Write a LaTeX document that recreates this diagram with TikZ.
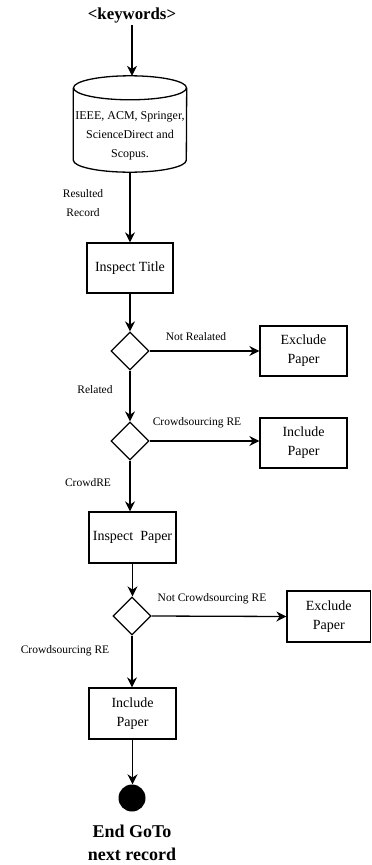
\documentclass[tikz,border=0pt]{standalone}
\usepackage{fontspec}
\setmainfont{Liberation Serif}
\usetikzlibrary{shapes.geometric,arrows.meta}
\begin{document}
\begin{tikzpicture}[x=1pt,y=-1pt,
  box/.style={draw,line width=1.3pt,align=center,inner sep=0pt,font=\fontsize{14}{19}\selectfont},
  dia/.style={draw,diamond,aspect=1,line width=1.3pt,inner sep=0pt,minimum size=38pt},
  lbl/.style={align=center,inner sep=0pt,font=\fontsize{11.5}{19}\selectfont},
  arr/.style={line width=1.3pt,-{Stealth[length=10pt,width=10pt]}},
  ln/.style={line width=1.3pt}]
\useasboundingbox (0,0) rectangle (372,865);
\node[inner sep=2pt,font=\fontsize{16.8}{20}\selectfont\bfseries] (kw) at (132,15) {<keywords>};
\node[minimum width=113pt,minimum height=96pt,inner sep=0pt] (db) at (130,124) {};
% cylinder outline
\draw[ln] ([yshift=-12pt]db.north west) -- ([yshift=12pt]db.south west)
  arc[start angle=180,end angle=360,x radius=56.5pt,y radius=12pt]
  -- ([yshift=-12pt]db.north east);
\draw[ln] ([yshift=-12pt]db.north) ellipse[x radius=56.5pt,y radius=12pt];
\node[lbl,font=\fontsize{12}{19}\selectfont] (dbt) at (130,136) {IEEE, ACM, Springer,\\ScienceDirect and\\Scopus.};
\node[box,minimum width=86pt,minimum height=50pt] (title) at (130,268) {Inspect Title};
\node[dia] (d1) at (130,351) {};
\node[box,minimum width=87pt,minimum height=50pt] (ex1) at (303.5,351) {Exclude\\Paper};
\node[dia] (d2) at (130,441) {};
\node[box,minimum width=87pt,minimum height=50pt] (inc1) at (303.5,443) {Include\\Paper};
\node[box,minimum width=87pt,minimum height=51pt] (ip) at (132.5,537.5) {Inspect\ \ Paper};
\node[dia] (d3) at (132,616) {};
\node[box,minimum width=83.5pt,minimum height=51pt] (ex2) at (328.75,616.5) {Exclude\\Paper};
\node[box,minimum width=87pt,minimum height=51pt] (inc2) at (132.5,713.5) {Include\\Paper};
\node[circle,fill=black,minimum size=27pt,inner sep=0pt] (end) at (132,798) {};
\node[align=center,inner sep=0pt,font=\fontsize{18}{23}\selectfont\bfseries] (endt) at (132,843) {End GoTo\\next record};
% labels
\node[lbl] (l1) at (83,203) {Resulted\\Record};
\node[lbl] (l2) at (196,337) {Not Realated};
\node[lbl] (l3) at (95,390) {Related};
\node[lbl] (l4) at (197,423) {Crowdsourcing RE};
\node[lbl] (l5) at (88,483) {CrowdRE};
\node[lbl] (l6) at (212,599) {Not Crowdsourcing RE};
\node[lbl] (l7) at (65,651) {Crowdsourcing RE};
% connectors
\draw[arr] (kw.south) -- (kw.south |- db.north);
\draw[arr] (db.south) -- (title.north);
\draw[arr] (title.south) -- (d1.north);
\draw[arr] (d1.east) -- (ex1.west);
\draw[arr] (d1.south) -- (d2.north);
\draw[arr] (d2.east) -- (d2.east -| inc1.west);
\draw[arr] (d2.south) -- (d2.south |- ip.north);
\draw[arr] (ip.south) -- (ip.south |- d3.north);
\draw[arr] (d3.east) -- (ex2.west);
\draw[arr] (d3.south) -- (d3.south |- inc2.north);
\draw[arr] (inc2.south) -- (inc2.south |- end.north);
\end{tikzpicture}
\end{document}
